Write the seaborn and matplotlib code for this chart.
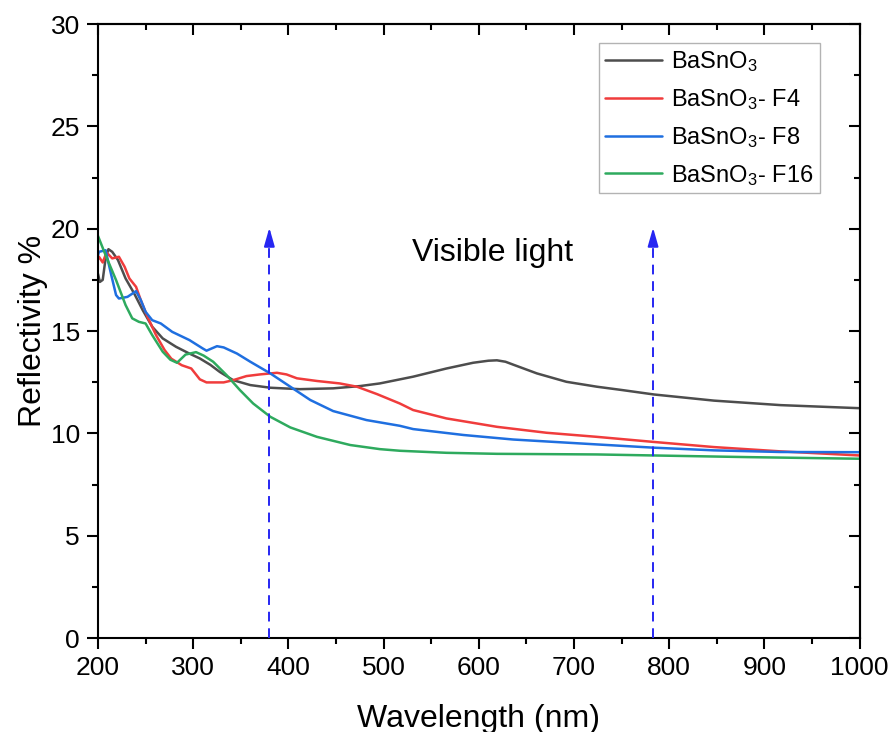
import numpy as np
import pandas as pd
import matplotlib
matplotlib.use("Agg")
import matplotlib.pyplot as plt
import seaborn as sns
from matplotlib.ticker import MultipleLocator

# ---------------- data ----------------
wl_bso = [200, 202, 205, 208, 211, 215, 221, 229, 238, 247, 257, 268, 282, 296, 307, 318,
          328, 342, 360, 381, 412, 447, 475, 496, 531, 566, 594, 610, 619, 628, 636, 661,
          692, 724, 750, 784, 847, 917, 1000]
r_bso = [17.8, 17.4, 17.5, 18.55, 19.0, 18.87, 18.47, 17.57, 16.84, 16.02, 15.21, 14.64,
         14.23, 13.9, 13.66, 13.35, 13.0, 12.6, 12.36, 12.23, 12.16, 12.2, 12.31, 12.44,
         12.77, 13.17, 13.45, 13.55, 13.57, 13.5, 13.36, 12.93, 12.52, 12.28, 12.12, 11.9,
         11.6, 11.38, 11.23]

wl_f4 = [200, 201, 205, 209, 215, 222, 228, 233, 240, 245, 252, 261, 270, 277, 288, 298,
         307, 314, 332, 342, 356, 370, 388, 398, 409, 430, 454, 472, 493, 517, 531, 566,
         619, 671, 724, 784, 847, 917, 1000]
r_f4 = [18.5, 18.63, 18.35, 18.84, 18.55, 18.63, 18.14, 17.57, 17.16, 16.51, 15.7, 14.8,
        14.07, 13.65, 13.33, 13.17, 12.64, 12.49, 12.49, 12.6, 12.8, 12.88, 12.96, 12.88,
        12.69, 12.56, 12.44, 12.28, 11.92, 11.46, 11.14, 10.73, 10.32, 10.03, 9.83, 9.58,
        9.33, 9.12, 8.92]

wl_f8 = [200, 201, 208, 214, 219, 222, 231, 240, 245, 250, 257, 266, 278, 296, 310, 314,
         325, 332, 346, 360, 381, 402, 423, 447, 482, 517, 531, 584, 636, 724, 784, 847,
         917, 1000]
r_f8 = [18.7, 18.87, 18.95, 17.73, 16.76, 16.59, 16.67, 16.95, 16.51, 15.94, 15.53, 15.37,
        14.96, 14.56, 14.15, 14.04, 14.26, 14.2, 13.9, 13.5, 12.93, 12.28, 11.63, 11.09,
        10.65, 10.37, 10.21, 9.92, 9.7, 9.46, 9.3, 9.17, 9.09, 9.08]

wl_f16 = [200, 208, 219, 229, 236, 243, 250, 257, 268, 276, 283, 292, 303, 311, 321, 335,
          349, 363, 381, 402, 430, 465, 496, 517, 566, 619, 724, 784, 882, 1000]
r_f16 = [19.65, 18.71, 17.49, 16.27, 15.62, 15.45, 15.37, 14.8, 13.99, 13.6, 13.45, 13.85,
         13.97, 13.8, 13.5, 12.85, 12.12, 11.46, 10.81, 10.29, 9.83, 9.43, 9.23, 9.15, 9.05,
         9.0, 8.97, 8.92, 8.84, 8.76]

labels = ["BaSnO$_3$", "BaSnO$_3$- F4", "BaSnO$_3$- F8", "BaSnO$_3$- F16"]
colors = ["#4d4d4d", "#f03c3c", "#1f6fe0", "#2eaa5e"]
visible_bounds = [380, 783]
visible_label = "Visible light"

# ---------------- build long table ----------------
frames = []
for lab, wl, r in zip(labels, [wl_bso, wl_f4, wl_f8, wl_f16], [r_bso, r_f4, r_f8, r_f16]):
    frames.append(pd.DataFrame({"Wavelength": wl, "Reflectivity": r, "Sample": lab}))
df = pd.concat(frames, ignore_index=True)

# ---------------- style ----------------
sns.set_style("ticks")
plt.rcParams["font.family"] = ["Liberation Sans", "DejaVu Sans"]
plt.rcParams["mathtext.fontset"] = "custom"
plt.rcParams["mathtext.rm"] = "Liberation Sans"
plt.rcParams["mathtext.it"] = "Liberation Sans:italic"
plt.rcParams["mathtext.bf"] = "Liberation Sans:bold"
plt.rcParams["text.color"] = "black"
plt.rcParams["axes.labelcolor"] = "black"
plt.rcParams["xtick.color"] = "black"
plt.rcParams["ytick.color"] = "black"
plt.rcParams["lines.solid_capstyle"] = "round"
plt.rcParams["lines.solid_joinstyle"] = "round"

fig = plt.figure(figsize=(8.93, 7.32), dpi=100)
ax = fig.add_axes([0.1097, 0.1284, 0.853, 0.8387])

sns.lineplot(data=df, x="Wavelength", y="Reflectivity", hue="Sample",
             hue_order=labels, palette=colors, estimator=None, sort=False,
             linewidth=1.8, ax=ax)

# visible light arrows
arrow_col = "#2626f2"
for xv in visible_bounds:
    ax.plot([xv, xv], [0, 19.4], color=arrow_col, lw=1.4, dashes=(5, 3.5), zorder=3)
    ax.annotate("", xy=(xv, 20.05), xytext=(xv, 19.2),
                arrowprops=dict(arrowstyle="-|>,head_length=0.7,head_width=0.2",
                                color=arrow_col, lw=1.4, shrinkA=0, shrinkB=0,
                                mutation_scale=16))
ax.text(614, 18.8, visible_label, fontsize=23, ha="center", va="center", color="black")

# axes
ax.set_xlim(200, 1000)
ax.set_ylim(0, 30)
ax.xaxis.set_major_locator(MultipleLocator(100))
ax.xaxis.set_minor_locator(MultipleLocator(50))
ax.yaxis.set_major_locator(MultipleLocator(5))
ax.yaxis.set_minor_locator(MultipleLocator(2.5))
ax.set_xlabel("Wavelength (nm)", fontsize=23, labelpad=17)
ax.set_ylabel("Reflectivity %", fontsize=23, labelpad=2)

for side in ["left", "bottom", "top", "right"]:
    ax.spines[side].set_visible(True)
    ax.spines[side].set_linewidth(1.5)
    ax.spines[side].set_color("black")

ax.tick_params(axis="both", which="major", direction="out", length=8, width=1.5,
               labelsize=19, pad=5, color="black", top=False, right=False)
ax.tick_params(axis="both", which="minor", direction="out", length=4.5, width=1.5,
               color="black", top=False, right=False)

# inward ticks on top and right via secondary axes
axt = ax.secondary_xaxis("top")
axt.xaxis.set_major_locator(MultipleLocator(100))
axt.xaxis.set_minor_locator(MultipleLocator(50))
axt.tick_params(which="major", direction="in", length=8, width=1.5, labeltop=False)
axt.tick_params(which="minor", direction="in", length=4.5, width=1.5)
axt.spines["top"].set_linewidth(1.5)
axr = ax.secondary_yaxis("right")
axr.yaxis.set_major_locator(MultipleLocator(5))
axr.yaxis.set_minor_locator(MultipleLocator(2.5))
axr.tick_params(which="major", direction="in", length=8, width=1.5, labelright=False)
axr.tick_params(which="minor", direction="in", length=4.5, width=1.5)
axr.spines["right"].set_linewidth(1.5)

# legend
handles, labs = ax.get_legend_handles_labels()
leg = ax.legend(handles, labs, loc="upper right", bbox_to_anchor=(0.9475, 0.969),
                borderaxespad=0, fontsize=17, frameon=True, fancybox=False,
                handlelength=2.4, labelspacing=0.55, handletextpad=0.4,
                borderpad=0.25, title=None)
leg.get_frame().set_edgecolor("#a0a0a0")
leg.get_frame().set_linewidth(1.0)
for lh in leg.get_lines():
    lh.set_linewidth(1.8)

fig.savefig("out.png", dpi=100)
